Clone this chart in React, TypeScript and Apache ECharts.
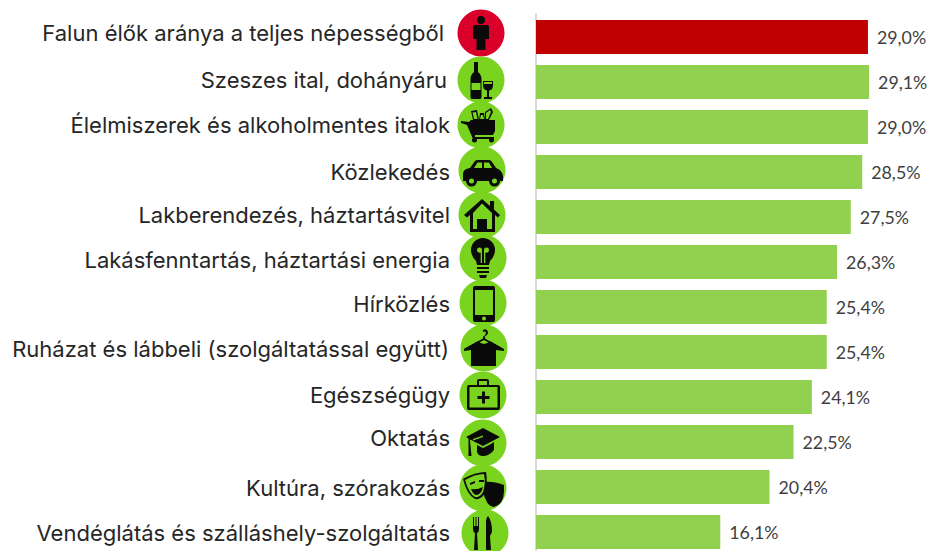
import React, { useEffect, useRef } from "react";
import * as echarts from "echarts";

const categories = [
  "Falun élők aránya a teljes népességből",
  "Szeszes ital, dohányáru",
  "Élelmiszerek és alkoholmentes italok",
  "Közlekedés",
  "Lakberendezés, háztartásvitel",
  "Lakásfenntartás, háztartási energia",
  "Hírközlés",
  "Ruházat és lábbeli (szolgáltatással együtt)",
  "Egészségügy",
  "Oktatás",
  "Kultúra, szórakozás",
  "Vendéglátás és szálláshely-szolgáltatás",
];
const values = [29.0, 29.1, 29.0, 28.5, 27.5, 26.3, 25.4, 25.4, 24.1, 22.5, 20.4, 16.1];
const highlighted = "Falun élők aránya a teljes népességből";

const labelPad: number[][] = [
  [0, 6, 8, 0],
  [0, 3, 4, 0],
  [0, 0, 4, 0],
  [0, 0, 0, 0],
  [0, 0, 4, 0],
  [0, 0, 4, 0],
  [0, 0, 6, 0],
  [0, 1, 6, 0],
  [0, 0, 4, 0],
  [0, 0, 8, 0],
  [2, 0, 0, 0],
  [2, 0, 0, 0],
];

const BLACK = "#0a0a0a";
const GREEN = "#7ad31f";
const RED = "#d9002a";

// Each icon: circle centre and layered shapes, k = black, g = background colour
const icons: { cx: number; cy: number; bg: string; k: string; g?: string; k2?: string }[] = [
  { cx: 481, cy: 33, bg: RED,
    k: "M-4,-13a4,4 0 1,1 8,0a4,4 0 1,1 -8,0ZM-6,-8L6,-8Q8,-8 8,-6L8,6L4.5,6L4.5,17L-4.5,17L-4.5,6L-8,6L-8,-6Q-8,-8 -6,-8Z" },
  { cx: 481, cy: 80, bg: GREEN,
    k: "M-7,-18L-3,-18L-3,-8Q0.5,-5 0.5,-1L0.5,17Q0.5,19 -1,19L-9,19Q-10.5,19 -10.5,17L-10.5,-1Q-10.5,-5 -7,-8ZM2,1L12,1L12,5Q12,10 8,10.5L8,17L11,17L11,19L3,19L3,17L6,17L6,10.5Q2,10 2,5Z",
    g: "M-9.5,3L-0.5,3L-0.5,10L-9.5,10ZM3,2L11,2L11,4L3,4Z" },
  { cx: 481, cy: 125, bg: GREEN,
    k: "M-20,-4L-12,-3L-10,-5L14,-5L14,6L12,10L-6,10L-6,12L13,12L13,14L-8,14L-14,0L-20,-2ZM-9,15a2.5,2.5 0 1,1 5,0a2.5,2.5 0 1,1 -5,0ZM8,15a2.5,2.5 0 1,1 5,0a2.5,2.5 0 1,1 -5,0ZM-10,-14L-4,-15L-2,-5L-8,-5ZM-1,-12L3,-12L4,-5L-2,-5ZM4,-13L10,-17L12,-13L8,-5L4,-5Z",
    g: "M-8.5,-12.5L-5,-13L-3.5,-6L-7,-6ZM0,-10L2,-10L3,-6L-1,-6ZM5,-12L9,-15L10,-13L7,-6L5,-6Z" },
  { cx: 482, cy: 170, bg: GREEN,
    k: "M-12,-2L-7,-9Q-6,-10 -4,-10L7,-10Q9,-10 10,-8L14,-2Q20,0 21,6L21,11L-19,11L-19,4Q-19,-1 -12,-2ZM-16,11a5.5,5.5 0 1,1 11,0a5.5,5.5 0 1,1 -11,0ZM7,11a5.5,5.5 0 1,1 11,0a5.5,5.5 0 1,1 -11,0Z",
    g: "M-8,-2L-4.5,-7.5L0,-7.5L0,-2ZM2,-7.5L7,-7.5L10,-2L2,-2ZM-13,11a2.5,2.5 0 1,1 5,0a2.5,2.5 0 1,1 -5,0ZM10,11a2.5,2.5 0 1,1 5,0a2.5,2.5 0 1,1 -5,0Z" },
  { cx: 482, cy: 215, bg: GREEN,
    k: "M0,-16L8,-9L8,-14L12,-14L12,-5.5L18,0L16,2.5L13,0L13,17L-12,17L-12,0L-15,2.5L-18,0Z",
    g: "M0,-11.5L10,-2L10,14L5,14L5,4L-5,4L-5,14L-9,14L-9,-2Z" },
  { cx: 483, cy: 258, bg: GREEN,
    k: "M-12,-8a12,12 0 1,1 24,0Q12,-2 7,3L6,7L-6,7L-7,3Q-12,-2 -12,-8ZM-6,9L6,9L6,11L-6,11ZM-6,13L6,13L6,15L-6,15ZM-4,17L4,17L3,20L-3,20Z",
    g: "M-6,-8a2.5,2.5 0 1,1 5,0L-1,5L-2.3,5L-2.3,-5.6A2.5,2.5 0 0 1 -6,-8ZM1,-8a2.5,2.5 0 1,1 5,0A2.5,2.5 0 0 1 2.3,-5.6L2.3,5L1,5Z" },
  { cx: 483, cy: 303, bg: GREEN,
    k: "M-8,-17L10,-17Q12,-17 12,-15L12,17Q12,19 10,19L-8,19Q-10,19 -10,17L-10,-15Q-10,-17 -8,-17Z",
    g: "M-8,-13L10,-13L10,12L-8,12ZM-1,15.5a2,2 0 1,1 4,0a2,2 0 1,1 -4,0Z" },
  { cx: 484, cy: 348, bg: GREEN,
    k: "M-6,-7Q0,-1 6,-7L20,1L20,3L12,2L12,18L-13,18L-13,2L-20,3L-20,1Z",
    k2: "M-1,-18Q3,-20 4,-16Q4,-13 1,-12L1,-9.5L19,1L18,2L0,-8L-19,2L-20,1L-1,-9.5L-1,-11Q2,-13 2,-15.5Q1,-17 -1,-16Z",
  },
  { cx: 483, cy: 395, bg: GREEN,
    k: "M-14,-10L-6,-10L-6,-14Q-6,-16 -4,-16L4,-16Q6,-16 6,-14L6,-10L15,-10Q17,-10 17,-8L17,13Q17,15 15,15L-14,15Q-16,15 -16,13L-16,-8Q-16,-10 -14,-10Z",
    g: "M-13.5,-8L14.5,-8L14.5,12.5L-13.5,12.5ZM-4,-14L4,-14L4,-10L-4,-10Z",
    k2: "M-1,-3.5L2,-3.5L2,1L6.5,1L6.5,4L2,4L2,8.5L-1,8.5L-1,4L-5.5,4L-5.5,1L-1,1Z" },
  { cx: 483, cy: 443, bg: GREEN,
    k: "M0,-15L17,-6L0,3L-13,-3.5L-13,-2L-11.5,13L-14.5,13L-14.5,-4.5L-17,-6ZM-6,2L0,5L8,1L11,-1L11,7Q6,13 0,13Q-5,13 -6,9Z",
    g: "M-10,-4L0,-7.5L0,-6L-10,-2.5Z" },
  { cx: 483, cy: 488, bg: GREEN,
    k: "M1,-6Q10,-7 21,-3L21,3Q21,16 11,19Q5,18 3,12Q-1,6 1,-6ZM-20,-9Q-8,-16 3,-16Q5,-5 2,5Q-2,12 -8,11Q-16,7 -20,-9Z",
    g: "M-18,-8Q-8,-14 1,-14Q3,-5 0,4Q-3,10 -8,9Q-14,6 -18,-8Z",
    k2: "M-13,-5L-8,-7L-8,-5L-13,-3ZM-4,-8L1,-8L1,-6L-4,-6ZM-12,1Q-6,2 0,-1Q-2,7 -7,7Q-10,6 -12,1ZM6,-1L10,-1L10,0L6,0Z" },
  { cx: 485, cy: 533, bg: GREEN,
    k: "M-12,-16L-11,-16L-11,-7L-9.5,-7L-9.5,-16L-8.5,-16L-8.5,-7L-7,-7L-7,-16L-6,-16L-6,-4Q-6,-1 -8,0L-7,17L-11,17L-10,0Q-12,-1 -12,-4ZM3,-17Q7,-12 7,-1L5,3L6,17L1,17L1,-12Q1,-15 3,-17Z" },
];

const App = () => {
  const ref = useRef<HTMLDivElement>(null);
  useEffect(() => {
    document.body.style.margin = "0";
    document.documentElement.style.overflow = "hidden";
    const chart = echarts.init(ref.current!, undefined, { renderer: "svg" });
    const elements: any[] = [];
    icons.forEach((ic, i) => {
      const layers: [string | undefined, string][] = [
        [ic.k, BLACK],
        [ic.g, ic.bg],
        [ic.k2, BLACK],
      ];
      elements.push({
        type: "circle",
        shape: { cx: ic.cx, cy: ic.cy, r: 23.5 },
        style: { fill: ic.bg },
        z: 10,
      });
      layers.forEach(([d, fill], j) => {
        if (!d) return;
        const name = `icon${i}_${j}`;
        echarts.graphic.registerShape(name, echarts.graphic.extendPath(d, {}) as any);
        elements.push({ type: name, x: ic.cx, y: ic.cy, style: { fill }, z: 11 });
      });
    });
    const rich: Record<string, any> = {};
    labelPad.forEach((p, i) => {
      rich[`r${i}`] = {
        padding: p,
        color: "#262626",
        fontFamily: "Inter",
        fontSize: 22,
      };
    });
    chart.setOption({
      animation: false,
      backgroundColor: "#fff",
      grid: { left: 536, top: 14.5, width: 343.4, height: 540, containLabel: false },
      xAxis: { type: "value", min: 0, max: 30, show: false },
      yAxis: {
        type: "category",
        inverse: true,
        data: categories,
        axisTick: { show: false },
        axisLine: { show: true, lineStyle: { color: "#d9d9d9", width: 2 } },
        axisLabel: {
          margin: 86,
          interval: 0,
          rich,
          formatter: (v: string) => `{r${categories.indexOf(v)}|${v}}`,
        },
      },
      series: [
        {
          type: "bar",
          barWidth: 34,
          data: values.map((v, i) => ({
            value: v,
            itemStyle: { color: categories[i] === highlighted ? "#c00000" : "#92d050" },
          })),
          label: {
            show: true,
            position: "right",
            distance: 9,
            padding: [2, 0, 0, 0],
            color: "#404040",
            fontFamily: "Lato",
            fontSize: 17.8,
            formatter: (p: any) => p.value.toFixed(1).replace(".", ",") + "%",
          },
        },
      ],
      graphic: { elements },
    });
    return () => chart.dispose();
  }, []);
  return <div ref={ref} style={{ position: "fixed", left: 0, top: 0, width: 930, height: 600 }} />;
};

export default App;
